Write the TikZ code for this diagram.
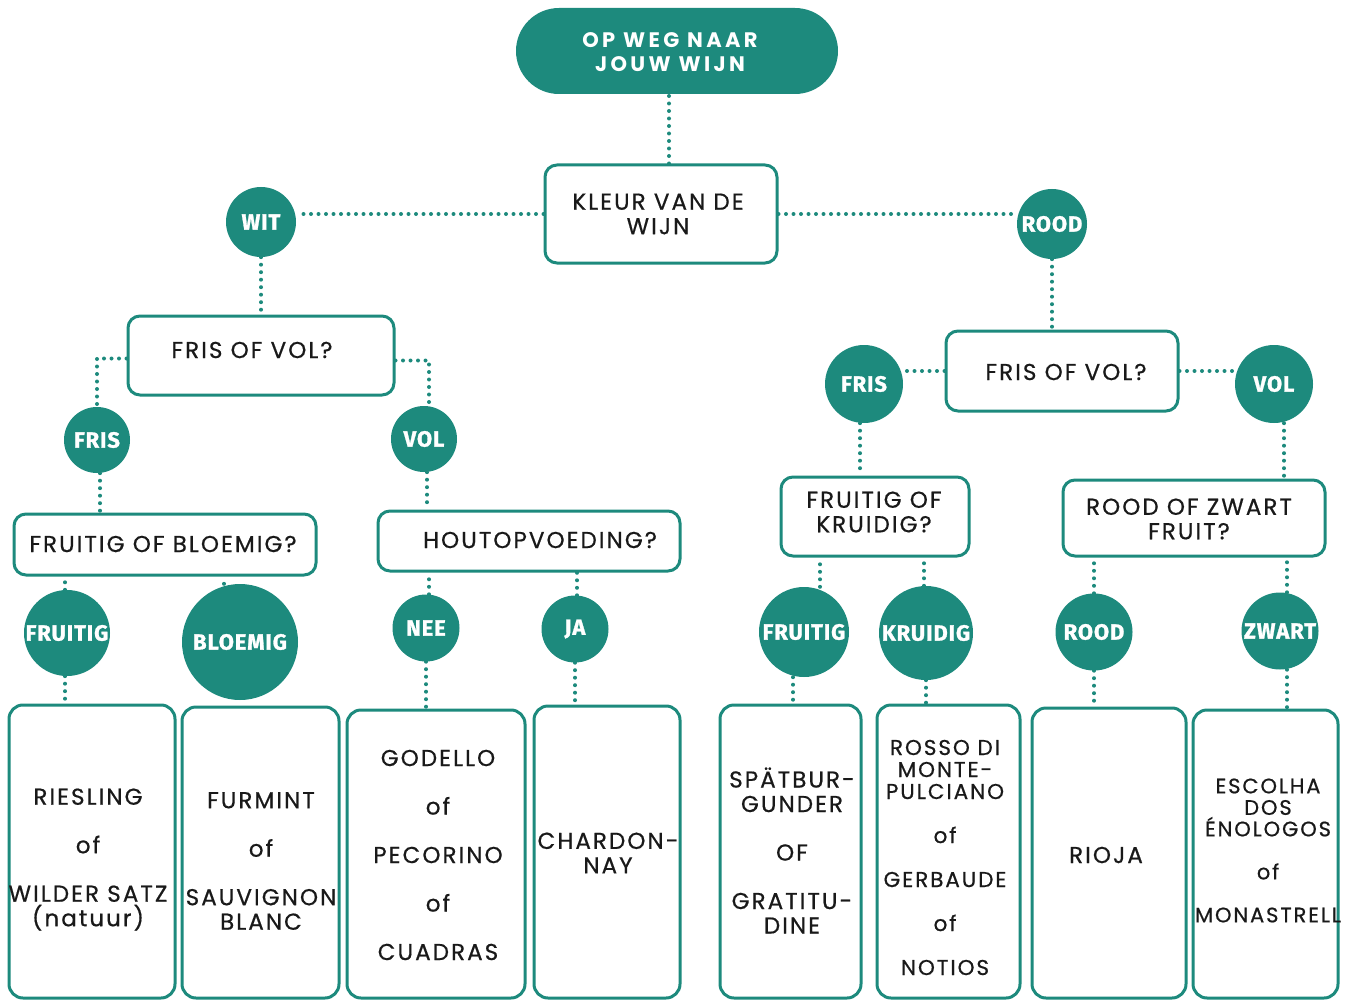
\documentclass[tikz,border=0pt]{standalone}
\usepackage{fontspec}
\setmainfont{Poppins}
\newfontfamily\boxfont[LetterSpace=9, FakeBold=0.6]{Poppins}
\newfontfamily\circfont[LetterSpace=4, BoldFeatures={FakeBold=1.2}]{Fira Sans}
\newfontfamily\titlefont[LetterSpace=16]{Poppins}
\definecolor{wteal}{RGB}{29,138,125}
\tikzset{
  x=1pt, y=-1pt,
  dotline/.style={draw=wteal, line width=4pt, line cap=round, dash pattern=on 0pt off 7.5pt},
  qbox/.style={draw=wteal, line width=3pt, rounded corners=12pt, fill=white, inner sep=0pt},
  winebox/.style={draw=wteal, line width=3pt, rounded corners=14pt, fill=white, inner sep=0pt},
  dot/.style={circle, fill=wteal, inner sep=0pt, minimum size=#1, text=white, font=\circfont\bfseries\fontsize{22}{24}\selectfont},
  qtext/.style={align=center, inner sep=0pt, font=\boxfont\fontsize{23}{24.5}\selectfont, text=black!90},
  wtext/.style={align=center, inner sep=0pt, font=\boxfont\fontsize{23}{24.5}\selectfont, text=black!90},
}
\begin{document}
\begin{tikzpicture}
\useasboundingbox (0,0) rectangle (1352,1003);
% title
\node[fill=wteal, rounded corners=43pt, minimum width=322pt, minimum height=86pt, inner sep=0pt] (title) at (677,51) {};
\node[align=center, text=white, inner sep=0pt, font=\titlefont\bfseries\fontsize{21}{24.5}\selectfont] (titletxt) at (670,52) {OP WEG NAAR\\JOUW WIJN};
% level 1
\node[qbox, minimum width=232pt, minimum height=98pt] (kleur) at (661,214) {};
\node[qtext] (kleurtxt) at (658,214) {KLEUR VAN DE\\WIJN};
\node[dot=70pt] (wit) at (261,222) {WIT};
\node[dot=70pt] (rood) at (1052,224) {ROOD};
% left branch
\node[qbox, minimum width=266pt, minimum height=79pt] (lfov) at (261,355.5) {};
\node[qtext] (lfovtxt) at (252,350) {FRIS OF VOL?};
\node[dot=66pt] (lfris) at (97,440) {FRIS};
\node[dot=66pt] (lvol) at (424,439) {VOL};
\node[qbox, minimum width=302pt, minimum height=61pt] (fob) at (165,544.5) {};
\node[qtext] (fobtxt) at (163,544) {FRUITIG OF BLOEMIG?};
\node[qbox, minimum width=302pt, minimum height=60pt] (hout) at (529,541) {};
\node[qtext] (houttxt) at (540,540) {HOUTOPVOEDING?};
\node[dot=86pt] (fruitigL) at (67,633) {FRUITIG};
\node[dot=116pt] (bloemig) at (240,642) {BLOEMIG};
\node[dot=67pt] (nee) at (426,628) {NEE};
\node[dot=67pt] (ja) at (575,629) {JA};
% right branch
\node[qbox, minimum width=232pt, minimum height=80pt] (rfov) at (1062,371) {};
\node[qtext] (rfovtxt) at (1066,372) {FRIS OF VOL?};
\node[dot=78pt] (rfris) at (864,384) {FRIS};
\node[dot=78pt] (rvol) at (1274,384) {VOL};
\node[qbox, minimum width=188pt, minimum height=79pt] (fok) at (875,516.5) {};
\node[qtext] (foktxt) at (874,512) {FRUITIG OF\\KRUIDIG?};
\node[qbox, minimum width=262pt, minimum height=76pt] (rozf) at (1194,518) {};
\node[qtext] (rozftxt) at (1189,519) {ROOD OF ZWART\\FRUIT?};
\node[dot=90pt] (fruitigR) at (804,632) {FRUITIG};
\node[dot=94pt] (kruidig) at (926,633) {KRUIDIG};
\node[dot=77pt] (roodR) at (1094,632) {ROOD};
\node[dot=77pt] (zwart) at (1280,631) {ZWART};
% wine boxes
\node[winebox, minimum width=166pt, minimum height=293pt] (b1) at (92,851.5) {};
\node[winebox, minimum width=157pt, minimum height=291pt] (b2) at (260.5,852.5) {};
\node[winebox, minimum width=178pt, minimum height=288pt] (b3) at (436,854) {};
\node[winebox, minimum width=146pt, minimum height=292pt] (b4) at (607,852) {};
\node[winebox, minimum width=141pt, minimum height=293pt] (b5) at (790.5,851.5) {};
\node[winebox, minimum width=143pt, minimum height=293pt] (b6) at (948.5,851.5) {};
\node[winebox, minimum width=154pt, minimum height=290pt] (b7) at (1109,853) {};
\node[winebox, minimum width=145pt, minimum height=288pt] (b8) at (1265.5,854) {};
\node[wtext] (t1) at (88,859.5) {RIESLING\\[24pt]of\\[24pt]WILDER SATZ\\(natuur)};
\node[wtext] (t2) at (261,861) {FURMINT\\[24pt]of\\[24pt]SAUVIGNON\\BLANC};
\node[wtext] (t3) at (438,855) {GODELLO\\[24pt]of\\[24pt]PECORINO\\[24pt]of\\[24pt]CUADRAS};
\node[wtext] (t4) at (608,853) {CHARDON-\\NAY};
\node[wtext] (t5) at (792,850.5) {SPÄTBUR-\\GUNDER\\[24pt]OF\\[24pt]GRATITU-\\DINE};
\node[wtext, font=\boxfont\fontsize{21.5}{22}\selectfont] (t6) at (945,857.5) {ROSSO DI\\MONTE-\\PULCIANO\\[22pt]of\\[22pt]GERBAUDE\\[22pt]of\\[22pt]NOTIOS};
\node[wtext] (t7) at (1106,855) {RIOJA};
\node[wtext, font=\boxfont\fontsize{21}{21.5}\selectfont] (t8) at (1268,850.5) {ESCOLHA\\DOS\\ÉNOLOGOS\\[21.5pt]of\\[21.5pt]MONASTRELL};
% connectors
\draw[dotline] ([xshift=8pt]kleur.north) -- ([xshift=8pt]kleur.north |- title.south);
\draw[dotline] (kleur.west) -- (kleur.west -| wit.east);
\draw[dotline] (kleur.east) -- (kleur.east -| rood.west);
\draw[dotline] (wit.south) -- (lfov.north -| wit.south);
\draw[dotline] (rood.south) -- (rfov.north -| rood.south);
\draw[dotline] ([yshift=-3pt]lfov.west) -| (lfris.north);
\draw[dotline] ([yshift=-5pt]lfov.east) -| ([xshift=5pt]lvol.north);
\draw[dotline] ([xshift=3pt]lfris.south) -- ([xshift=3pt]lfris.south |- fob.north);
\draw[dotline] ([xshift=3pt]lvol.south) -- ([xshift=3pt]lvol.south |- hout.north);
\draw[dotline] ([xshift=-2pt]fruitigL.north) -- ([xshift=-2pt]fruitigL.north |- fob.south);
\draw[dotline] ([xshift=-16pt]bloemig.north) -- ([xshift=-16pt]bloemig.north |- fob.south);
\draw[dotline] ([xshift=3pt]nee.north) -- ([xshift=3pt]nee.north |- hout.south);
\draw[dotline] ([xshift=2pt]ja.north) -- ([xshift=2pt]ja.north |- hout.south);
\draw[dotline] ([xshift=-2pt]fruitigL.south) -- ([xshift=-2pt]fruitigL.south |- b1.north);
\draw[dotline] (nee.south) -- (nee.south |- b3.north);
\draw[dotline] (ja.south) -- (ja.south |- b4.north);
\draw[dotline] (rfov.west) -- (rfov.west -| rfris.east);
\draw[dotline] (rfov.east) -- (rfov.east -| rvol.west);
\draw[dotline] ([xshift=-4pt]rfris.south) -- ([xshift=-4pt]rfris.south |- fok.north);
\draw[dotline] ([xshift=10pt]rvol.south) -- ([xshift=10pt]rvol.south |- rozf.north);
\draw[dotline] ([xshift=16pt]fruitigR.north) -- ([xshift=16pt]fruitigR.north |- fok.south);
\draw[dotline] ([xshift=-2pt]kruidig.north) -- ([xshift=-2pt]kruidig.north |- fok.south);
\draw[dotline] (roodR.north) -- (roodR.north |- rozf.south);
\draw[dotline] ([xshift=7pt]zwart.north) -- ([xshift=7pt]zwart.north |- rozf.south);
\draw[dotline] ([xshift=-11pt]fruitigR.south) -- ([xshift=-11pt]fruitigR.south |- b5.north);
\draw[dotline] (kruidig.south) -- (kruidig.south |- b6.north);
\draw[dotline] (roodR.south) -- (roodR.south |- b7.north);
\draw[dotline] ([xshift=7pt]zwart.south) -- ([xshift=7pt]zwart.south |- b8.north);
\end{tikzpicture}
\end{document}
